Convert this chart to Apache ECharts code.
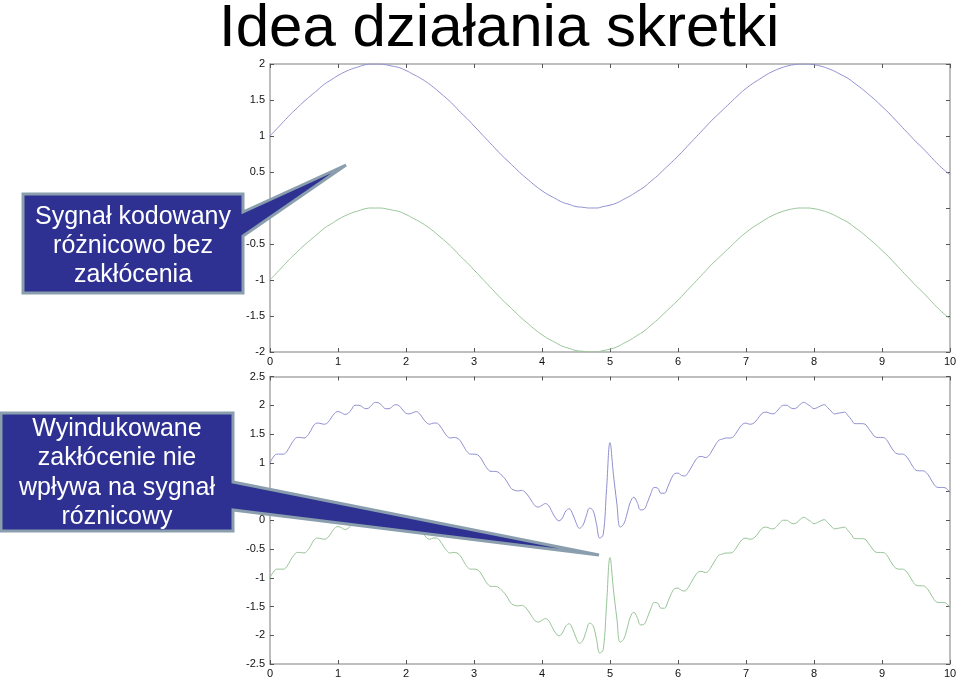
<!DOCTYPE html>
<html>
<head>
<meta charset="utf-8">
<script src="https://cdn.jsdelivr.net/npm/echarts@6/dist/echarts.min.js"></script>
<style>
html, body { margin: 0; padding: 0; background: #fff; }
#main { width: 960px; height: 678px; }
</style>
</head>
<body>
<div id="main"></div>
<script>
// sygnały (górny: krok 0.1, dolny: krok 0.05)
var topStep = 0.1
var bottomStep = 0.05

var topBlue = [
    1.00, 1.10, 1.20, 1.30, 1.39, 1.48, 1.56, 1.64, 1.72, 1.78,
    1.84, 1.89, 1.93, 1.96, 1.99, 2.00, 2.00, 1.99, 1.97, 1.95,
    1.91, 1.86, 1.81, 1.75, 1.68, 1.60, 1.52, 1.43, 1.33, 1.24,
    1.14, 1.04, 0.94, 0.84, 0.74, 0.65, 0.56, 0.47, 0.39, 0.31,
    0.24, 0.18, 0.13, 0.08, 0.05, 0.02, 0.01, 0.00, 0.00, 0.02,
    0.04, 0.07, 0.12, 0.17, 0.23, 0.29, 0.37, 0.45, 0.54, 0.63,
    0.72, 0.82, 0.92, 1.02, 1.12, 1.22, 1.31, 1.40, 1.49, 1.58,
    1.66, 1.73, 1.79, 1.85, 1.90, 1.94, 1.97, 1.99, 2.00, 2.00,
    1.99, 1.97, 1.94, 1.90, 1.85, 1.80, 1.73, 1.66, 1.58, 1.50,
    1.41, 1.32, 1.22, 1.12, 1.02, 0.92, 0.83, 0.73, 0.63, 0.54,
    0.46
]
var topGreen = [
    -1.00, -0.90, -0.80, -0.70, -0.61, -0.52, -0.44, -0.36, -0.28, -0.22,
    -0.16, -0.11, -0.07, -0.04, -0.01, 0.00, 0.00, -0.01, -0.03, -0.05,
    -0.09, -0.14, -0.19, -0.25, -0.32, -0.40, -0.48, -0.57, -0.67, -0.76,
    -0.86, -0.96, -1.06, -1.16, -1.26, -1.35, -1.44, -1.53, -1.61, -1.69,
    -1.76, -1.82, -1.87, -1.92, -1.95, -1.98, -1.99, -2.00, -2.00, -1.98,
    -1.96, -1.93, -1.88, -1.83, -1.77, -1.71, -1.63, -1.55, -1.46, -1.37,
    -1.28, -1.18, -1.08, -0.98, -0.88, -0.78, -0.69, -0.60, -0.51, -0.42,
    -0.34, -0.27, -0.21, -0.15, -0.10, -0.06, -0.03, -0.01, 0.00, 0.00,
    -0.01, -0.03, -0.06, -0.10, -0.15, -0.20, -0.27, -0.34, -0.42, -0.50,
    -0.59, -0.68, -0.78, -0.88, -0.98, -1.08, -1.17, -1.27, -1.37, -1.46,
    -1.54
]

var bottomBlue = [
    1.00, 1.10, 1.15, 1.15, 1.15, 1.20,
    1.30, 1.39, 1.44, 1.44, 1.43, 1.47,
    1.56, 1.66, 1.69, 1.68, 1.67, 1.70,
    1.78, 1.86, 1.89, 1.87, 1.84, 1.86,
    1.93, 2.00, 2.00, 1.98, 1.94, 1.95,
    2.01, 2.05, 2.04, 1.99, 1.94, 1.94,
    1.98, 2.01, 1.99, 1.92, 1.86, 1.85,
    1.87, 1.89, 1.85, 1.77, 1.70, 1.67,
    1.69, 1.69, 1.64, 1.55, 1.47, 1.43,
    1.44, 1.43, 1.38, 1.28, 1.19, 1.15,
    1.15, 1.14, 1.08, 0.98, 0.89, 0.85,
    0.85, 0.84, 0.79, 0.73, 0.64, 0.55,
    0.52, 0.51, 0.52, 0.49, 0.42, 0.33,
    0.25, 0.23, 0.26, 0.29, 0.25, 0.14,
    0.04, -0.01, 0.04, 0.16, 0.20, 0.11,
    -0.04, -0.14, -0.09, 0.07, 0.21, 0.17,
    -0.06, -0.31, -0.25, 0.55, 1.35, 0.80,
    0.30, -0.12, -0.07, 0.11, 0.32, 0.40,
    0.31, 0.18, 0.19, 0.31, 0.46, 0.57,
    0.56, 0.47, 0.47, 0.58, 0.72, 0.81,
    0.82, 0.78, 0.77, 0.83, 0.93, 1.03,
    1.10, 1.11, 1.09, 1.12, 1.21, 1.31,
    1.39, 1.41, 1.43, 1.43, 1.44, 1.51,
    1.60, 1.67, 1.69, 1.67, 1.68, 1.73,
    1.81, 1.87, 1.88, 1.86, 1.85, 1.89,
    1.96, 2.00, 2.00, 1.96, 1.94, 1.96,
    2.02, 2.05, 2.02, 1.98, 1.94, 1.96,
    1.99, 2.01, 1.96, 1.90, 1.85, 1.86,
    1.87, 1.88, 1.82, 1.75, 1.68, 1.68,
    1.68, 1.67, 1.60, 1.52, 1.45, 1.44,
    1.44, 1.42, 1.34, 1.24, 1.17, 1.15,
    1.15, 1.12, 1.04, 0.94, 0.87, 0.86,
    0.86, 0.83, 0.75, 0.65, 0.58, 0.57,
    0.57, 0.55, 0.48
]
var bottomGreen = [
    -1.00, -0.90, -0.85, -0.85, -0.85, -0.80,
    -0.70, -0.61, -0.56, -0.56, -0.57, -0.53,
    -0.44, -0.34, -0.31, -0.32, -0.33, -0.30,
    -0.22, -0.14, -0.11, -0.13, -0.16, -0.14,
    -0.07, 0.00, 0.00, -0.02, -0.06, -0.05,
    0.01, 0.05, 0.04, -0.01, -0.06, -0.06,
    -0.02, 0.01, -0.01, -0.08, -0.14, -0.15,
    -0.13, -0.11, -0.15, -0.23, -0.30, -0.33,
    -0.31, -0.31, -0.36, -0.45, -0.53, -0.57,
    -0.56, -0.57, -0.62, -0.72, -0.81, -0.85,
    -0.85, -0.86, -0.92, -1.02, -1.11, -1.15,
    -1.15, -1.16, -1.21, -1.27, -1.36, -1.45,
    -1.48, -1.49, -1.48, -1.51, -1.58, -1.67,
    -1.75, -1.77, -1.74, -1.71, -1.75, -1.86,
    -1.96, -2.01, -1.96, -1.84, -1.80, -1.89,
    -2.04, -2.14, -2.09, -1.93, -1.79, -1.83,
    -2.06, -2.31, -2.25, -1.45, -0.65, -1.20,
    -1.70, -2.12, -2.07, -1.89, -1.68, -1.60,
    -1.69, -1.82, -1.81, -1.69, -1.54, -1.43,
    -1.44, -1.53, -1.53, -1.42, -1.28, -1.19,
    -1.18, -1.22, -1.23, -1.17, -1.07, -0.97,
    -0.90, -0.89, -0.91, -0.88, -0.79, -0.69,
    -0.61, -0.59, -0.57, -0.57, -0.56, -0.49,
    -0.40, -0.33, -0.31, -0.33, -0.32, -0.27,
    -0.19, -0.13, -0.12, -0.14, -0.15, -0.11,
    -0.04, 0.00, 0.00, -0.04, -0.06, -0.04,
    0.02, 0.05, 0.02, -0.02, -0.06, -0.04,
    -0.01, 0.01, -0.04, -0.10, -0.15, -0.14,
    -0.13, -0.12, -0.18, -0.25, -0.32, -0.32,
    -0.32, -0.33, -0.40, -0.48, -0.55, -0.56,
    -0.56, -0.58, -0.66, -0.76, -0.83, -0.85,
    -0.85, -0.88, -0.96, -1.06, -1.13, -1.14,
    -1.14, -1.17, -1.25, -1.35, -1.42, -1.43,
    -1.43, -1.45, -1.52
]

var titleText = 'Idea działania skretki'
var callout1 = 'Sygnał kodowany\nróżnicowo bez\nzakłócenia'
var callout2 = 'Wyindukowane\nzakłócenie nie\nwpływa na sygnał\nróznicowy'

var FONT = '"Liberation Sans", Arial, sans-serif'
var BLUE = '#8f8fcf'
var GREEN = '#97c497'
var FRAME = '#a9a9a9'
var BOX = '#2e3192'
var BOX_EDGE = '#8a9eae'

function withX(values, step) {
    return values.map(function (v, i) { return [+(i * step).toFixed(2), v] })
}

function xAxisPair(grid) {
    var common = {
        gridIndex: grid, type: 'value', min: 0, max: 10, interval: 1,
        axisLine: { onZero: false, lineStyle: { color: FRAME, width: 1.5 } },
        axisTick: { inside: true, length: 4, lineStyle: { color: '#555' } },
        splitLine: { show: false }
    }
    return [
        Object.assign({}, common, {
            position: 'bottom',
            axisLabel: { fontFamily: FONT, fontSize: 11, color: '#111', margin: 4 }
        }),
        Object.assign({}, common, { position: 'top', axisLabel: { show: false } })
    ]
}

function yAxisPair(grid, lim) {
    var common = {
        gridIndex: grid, type: 'value', min: -lim, max: lim, interval: 0.5,
        axisLine: { show: true, onZero: false, lineStyle: { color: FRAME, width: 1.5 } },
        axisTick: { show: true, inside: true, length: 4, lineStyle: { color: '#555' } },
        splitLine: { show: false }
    }
    return [
        Object.assign({}, common, {
            position: 'left',
            axisLabel: { fontFamily: FONT, fontSize: 11, color: '#111', margin: 5 }
        }),
        Object.assign({}, common, { position: 'right', axisLabel: { show: false } })
    ]
}

function lineSeries(data, color, xi, yi, smooth) {
    return {
        type: 'line', data: data, xAxisIndex: xi, yAxisIndex: yi,
        showSymbol: false, smooth: smooth, silent: true,
        lineStyle: { color: color, width: 1 }
    }
}

// dymek: wielokąt (prostokąt + wskaźnik) i biały tekst, nad osiami
function callout(points, text, cx, cy, fontSize, lineHeight) {
    return [{
        type: 'polygon', z: 100, zlevel: 1,
        shape: { points: points },
        style: { fill: BOX, stroke: BOX_EDGE, lineWidth: 3, lineJoin: 'miter' }
    }, {
        type: 'text', x: cx, y: cy, z: 101, zlevel: 1,
        style: {
            text: text, fill: '#fff', font: fontSize + 'px ' + FONT,
            align: 'center', verticalAlign: 'middle', lineHeight: lineHeight
        }
    }]
}

var chart = echarts.init(document.getElementById('main'))
chart.setOption({
    backgroundColor: '#fff',
    animation: false,
    title: {
        text: titleText, left: 214, top: -6,
        textStyle: { fontFamily: FONT, fontSize: 60, fontWeight: 'normal', color: '#000' }
    },
    grid: [
        { left: 270, right: 10, top: 64, height: 288, containLabel: false, outerBoundsMode: 'none' },
        { left: 270, right: 10, top: 376.5, height: 287.5, containLabel: false, outerBoundsMode: 'none' }
    ],
    xAxis: xAxisPair(0).concat(xAxisPair(1)),
    yAxis: yAxisPair(0, 2).concat(yAxisPair(1, 2.5)),
    series: [
        lineSeries(withX(topBlue, topStep), BLUE, 0, 0, true),
        lineSeries(withX(topGreen, topStep), GREEN, 0, 0, true),
        lineSeries(withX(bottomBlue, bottomStep), BLUE, 2, 2, 0.4),
        lineSeries(withX(bottomGreen, bottomStep), GREEN, 2, 2, 0.4)
    ],
    graphic: callout([[23, 194], [243, 194], [243, 212], [346, 165], [243, 236], [243, 293], [23, 293]],
            callout1, 133, 246, 25, 29)
        .concat(callout([[1, 413], [233, 413], [233, 482], [599, 555], [233, 510], [233, 531], [1, 531]],
            callout2, 117, 473, 25, 29.5))
})
</script>
</body>
</html>
